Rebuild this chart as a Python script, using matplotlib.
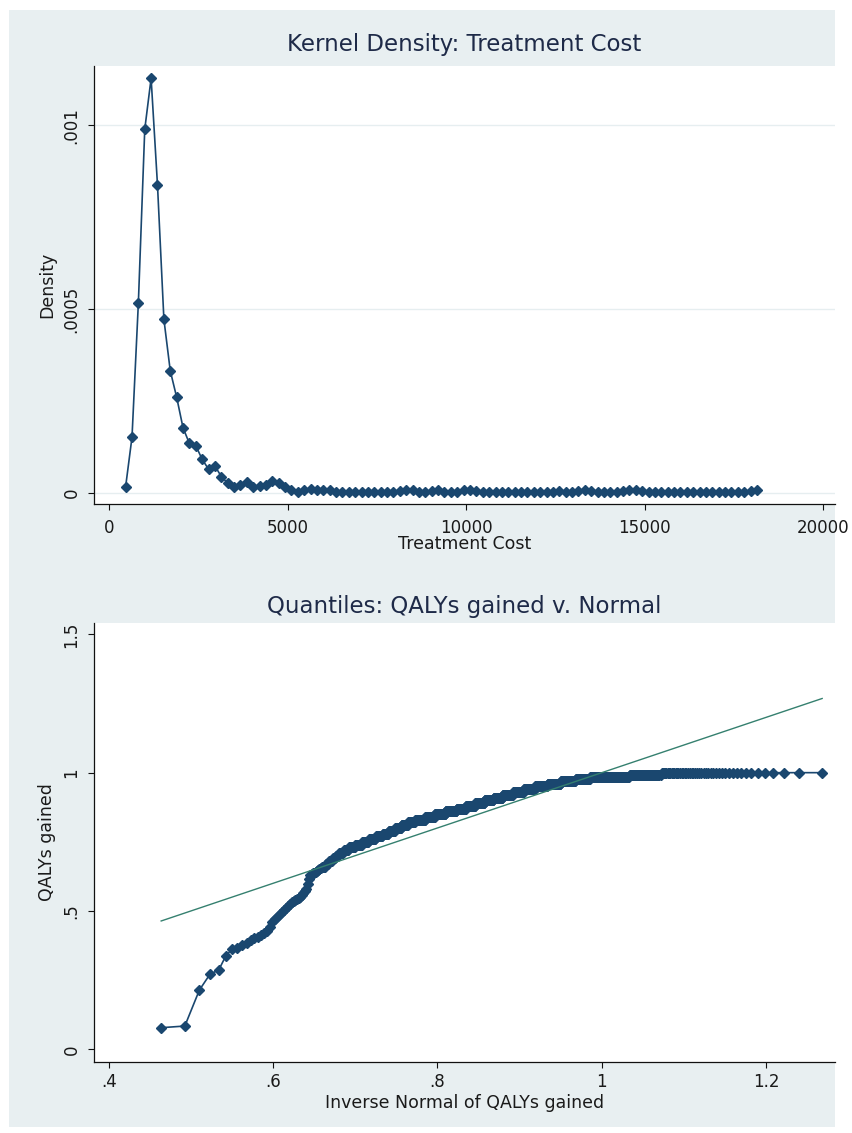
import matplotlib
matplotlib.use("Agg")
import numpy as np
import matplotlib.pyplot as plt
from matplotlib.patches import Rectangle
from statistics import NormalDist

# ---------------- Data: kernel density of treatment cost ----------------
cost_grid = [465, 644, 822, 1001, 1179, 1358, 1537, 1715, 1894, 2072,
             2251, 2429, 2608, 2787, 2965, 3144, 3322, 3501, 3680, 3858,
             4037, 4215, 4394, 4572, 4751, 4930, 5108, 5287, 5465, 5644,
             5822, 6001, 6180, 6358, 6537, 6715, 6894, 7072, 7251, 7430,
             7608, 7787, 7965, 8144, 8323, 8501, 8680, 8858, 9037, 9215,
             9394, 9573, 9751, 9930, 10108, 10287, 10466, 10644, 10823, 11001,
             11180, 11358, 11537, 11716, 11894, 12073, 12251, 12430, 12608, 12787,
             12966, 13144, 13323, 13501, 13680, 13859, 14037, 14216, 14394, 14573,
             14752, 14930, 15109, 15287, 15466, 15644, 15823, 16002, 16180, 16359,
             16537, 16716, 16895, 17073, 17252, 17430, 17609, 17788, 17966, 18145]

cost_density = [1.6e-5, 1.51e-4, 5.16e-4, 9.89e-4, 1.128e-3, 8.37e-4, 4.72e-4, 3.32e-4, 2.60e-4, 1.77e-4,
                1.34e-4, 1.28e-4, 9.1e-5, 6.4e-5, 7.3e-5, 4.4e-5, 2.6e-5, 1.5e-5, 2.2e-5, 2.8e-5,
                1.6e-5, 1.8e-5, 2.2e-5, 3.3e-5, 2.6e-5, 1.5e-5, 7e-6, 2e-6, 7e-6, 1.1e-5,
                7e-6, 7e-6, 6e-6, 2e-6, 2e-6, 2e-6, 2e-6, 2e-6, 2e-6, 2e-6,
                2e-6, 2e-6, 3e-6, 5e-6, 8e-6, 6e-6, 3e-6, 2e-6, 5e-6, 6e-6,
                3e-6, 2e-6, 3e-6, 7e-6, 8e-6, 5e-6, 3e-6, 2e-6, 2e-6, 2e-6,
                2e-6, 2e-6, 2e-6, 2e-6, 2e-6, 2e-6, 2e-6, 3e-6, 4e-6, 3e-6,
                2e-6, 4e-6, 6e-6, 4e-6, 2e-6, 2e-6, 2e-6, 3e-6, 4e-6, 6e-6,
                7e-6, 4e-6, 2e-6, 2e-6, 2e-6, 2e-6, 2e-6, 2e-6, 2e-6, 2e-6,
                2e-6, 2e-6, 2e-6, 2e-6, 2e-6, 2e-6, 2e-6, 3e-6, 4e-6, 6e-6]

cost_xticks = [0, 5000, 10000, 15000, 20000]
cost_xticklabels = ["0", "5000", "10000", "15000", "20000"]
density_yticks = [0, 0.0005, 0.001]
density_yticklabels = ["0", ".0005", ".001"]

# ---------------- Data: QALYs gained (sorted sample as value / count) ----------------
qaly_values = [0.078, 0.084, 0.214, 0.272, 0.286, 0.337, 0.362, 0.367, 0.376, 0.386,
               0.395, 0.402, 0.407, 0.413, 0.421, 0.429, 0.443, 0.459, 0.470, 0.480,
               0.490, 0.498, 0.505, 0.512, 0.519, 0.526, 0.531, 0.535, 0.539, 0.543,
               0.547, 0.551, 0.558, 0.565, 0.573, 0.580, 0.597, 0.616, 0.630, 0.633,
               0.636, 0.639, 0.642, 0.645, 0.648, 0.651, 0.654,
               0.66, 0.67, 0.68, 0.69, 0.70, 0.71, 0.72, 0.73, 0.74, 0.75,
               0.76, 0.77, 0.78, 0.79, 0.80, 0.81, 0.82, 0.83, 0.84, 0.85,
               0.86, 0.87, 0.88, 0.89, 0.90, 0.91, 0.92, 0.93, 0.94, 0.95,
               0.96, 0.97, 0.978, 0.983, 0.99, 1.0]
qaly_counts = [1] * 47 + [4, 3, 4, 3, 3, 6, 6, 8, 10, 10,
                          11, 12, 11, 12, 13, 14, 16, 24, 24, 28,
                          30, 26, 27, 27, 26, 27, 30, 31, 31, 32,
                          33, 34, 30, 64, 35, 48]
normal_mean = 0.866   # mean of QALYs gained (reference normal)
normal_sd = 0.133     # sd of QALYs gained

qq_xticks = [0.4, 0.6, 0.8, 1.0, 1.2]
qq_xticklabels = [".4", ".6", ".8", "1", "1.2"]
qq_yticks = [0, 0.5, 1.0, 1.5]
qq_yticklabels = ["0", ".5", "1", "1.5"]

# ---------------- Styling ----------------
W, H = 853, 1133
BG = "#e8eff1"
NAVY = "#1a476f"
REFLINE = "#35806f"
TITLE_C = "#1e2a48"
TXT = "#1a1a1a"
MS = 5.6

plt.rcParams["font.family"] = ["DejaVu Sans"]

fig = plt.figure(figsize=(W / 100, H / 100), dpi=100)
fig.patch.set_facecolor("white")
fig.add_artist(Rectangle((9 / W, 1 - 1127 / H), (835 - 9) / W, (1127 - 10) / H,
                         transform=fig.transFigure, facecolor=BG, edgecolor="none", zorder=0))


def px_axes(left, top, right, bottom):
    return [left / W, 1 - bottom / H, (right - left) / W, (bottom - top) / H]


def style_axes(ax, xpad, ypad):
    ax.set_facecolor("white")
    for s in ("top", "right"):
        ax.spines[s].set_visible(False)
    for s in ("left", "bottom"):
        ax.spines[s].set_color("#111111")
        ax.spines[s].set_linewidth(0.9)
    ax.tick_params(axis="both", direction="out", length=4.3, width=0.8, color="#111111",
                   labelsize=12, labelcolor=TXT)
    ax.tick_params(axis="x", pad=xpad)
    ax.tick_params(axis="y", pad=ypad, labelrotation=90)
    for lbl in ax.get_yticklabels():
        lbl.set_va("center")


# ---- Top: kernel density ----
ax1 = fig.add_axes(px_axes(94, 65.5, 835, 504))
ax1.set_xlim(-420, 20328)
ax1.set_ylim(-0.0000308, 0.0011628)
ax1.set_xticks(cost_xticks)
ax1.set_xticklabels(cost_xticklabels)
ax1.set_yticks(density_yticks)
ax1.set_yticklabels(density_yticklabels)
ax1.grid(axis="y", color="#e6eef0", linewidth=1.0)
ax1.set_axisbelow(True)
ax1.plot(cost_grid, cost_density, color=NAVY, linewidth=1.2, marker="D",
         markersize=MS, markerfacecolor=NAVY, markeredgecolor=NAVY, zorder=3)
style_axes(ax1, xpad=6.3, ypad=5.5)

# ---- Bottom: normal quantile plot ----
qaly_sorted = np.sort(np.repeat(np.array(qaly_values), np.array(qaly_counts)))
n = len(qaly_sorted)
nd = NormalDist(normal_mean, normal_sd)
theo = np.array([nd.inv_cdf(i / (n + 1)) for i in range(1, n + 1)])

ax2 = fig.add_axes(px_axes(94, 623.3, 835, 1062))
ax2.set_xlim(0.3821, 1.2838)
ax2.set_ylim(-0.046, 1.540)
ax2.set_xticks(qq_xticks)
ax2.set_xticklabels(qq_xticklabels)
ax2.set_yticks(qq_yticks)
ax2.set_yticklabels(qq_yticklabels)
ax2.plot(theo, qaly_sorted, color=NAVY, linewidth=1.2, marker="D",
         markersize=MS, markerfacecolor=NAVY, markeredgecolor=NAVY, zorder=3)
ax2.plot([theo.min(), theo.max()], [theo.min(), theo.max()], color=REFLINE,
         linewidth=1.0, zorder=4)
style_axes(ax2, xpad=3.7, ypad=5.5)

# ---- Titles and axis labels ----
cx = (94 + 835) / 2 / W
fig.text(cx, 1 - 45 / H, "Kernel Density: Treatment Cost", ha="center", va="center",
         fontsize=16.5, color=TITLE_C)
fig.text(cx, 1 - 544 / H, "Treatment Cost", ha="center", va="center", fontsize=12.5, color=TXT)
fig.text(47.5 / W, 1 - 284.75 / H, "Density", ha="center", va="center", rotation=90,
         fontsize=12.5, color=TXT)

fig.text(cx, 1 - 606 / H, "Quantiles: QALYs gained v. Normal", ha="center", va="center",
         fontsize=16.5, color=TITLE_C)
fig.text(cx, 1 - 1103 / H, "Inverse Normal of QALYs gained", ha="center", va="center",
         fontsize=12.5, color=TXT)
fig.text(47.5 / W, 1 - 842.5 / H, "QALYs gained", ha="center", va="center", rotation=90,
         fontsize=12.5, color=TXT)

fig.savefig("out.png", dpi=100, facecolor=fig.get_facecolor())
